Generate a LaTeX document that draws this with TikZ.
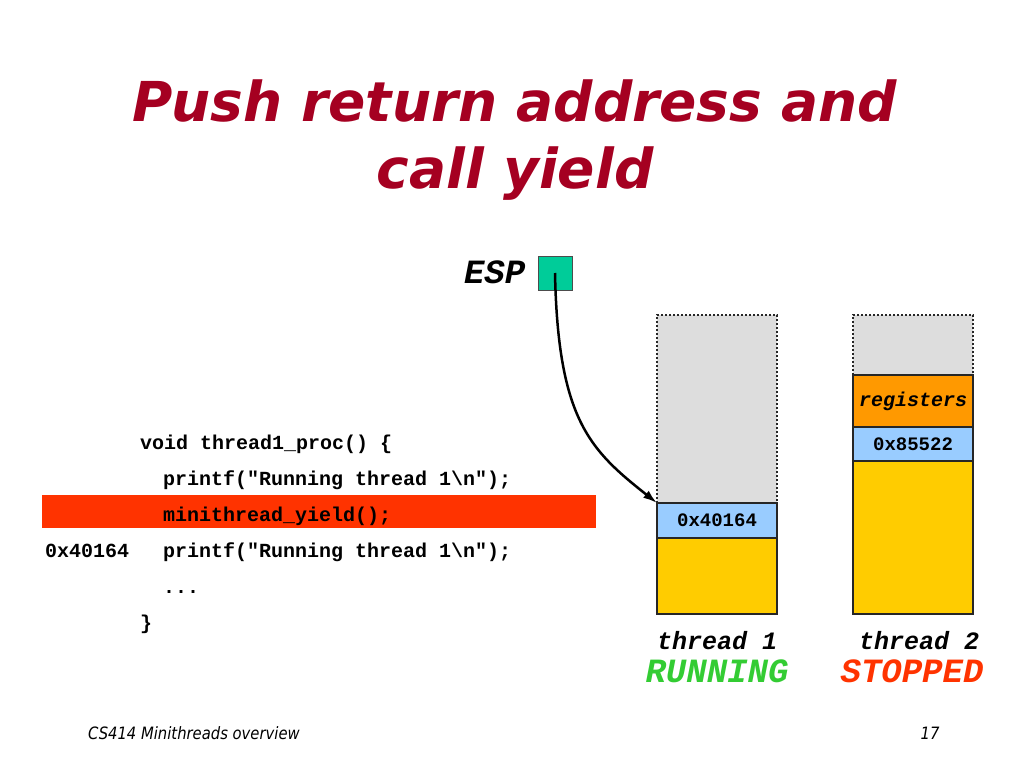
\documentclass[tikz,border=0pt]{standalone}
\usepackage{fontspec}
\setmainfont{DejaVu Sans}
\setmonofont{Liberation Mono}
\newfontfamily\footfont{DejaVu Sans}[FakeStretch=0.87]
\usetikzlibrary{positioning,arrows.meta}

\definecolor{titlered}{HTML}{A50021}
\definecolor{espgreen}{HTML}{00CC99}
\definecolor{freegray}{HTML}{DDDDDD}
\definecolor{retblue}{HTML}{99CCFF}
\definecolor{usedyellow}{HTML}{FFCC00}
\definecolor{regorange}{HTML}{FF9900}
\definecolor{hilite}{HTML}{FF3300}
\definecolor{rungreen}{HTML}{33CC33}

\tikzset{
  slot/.style={draw=black!85, line width=2pt, minimum width=120pt, inner sep=0pt, outer sep=0pt,
    font=\ttfamily\bfseries\fontsize{19}{19}\selectfont},
  freeslot/.style={slot, draw=none, fill=freegray},
  code/.style={anchor=base west, inner sep=0pt, font=\ttfamily\bfseries\fontsize{20}{20}\selectfont},
  titleline/.style={text=titlered, font=\bfseries\itshape\fontsize{55}{55}\selectfont},
  threadlabel/.style={inner sep=0pt, font=\ttfamily\bfseries\itshape\fontsize{25}{25}\selectfont},
  statelabel/.style={inner sep=0pt, font=\ttfamily\bfseries\itshape\fontsize{34}{34}\selectfont},
}

\begin{document}
\begin{tikzpicture}[x=1pt,y=1pt,yscale=-1]
    \useasboundingbox (0,0) rectangle (1024,768);

    % title
    \node[titleline] (title1) at (515,101) {Push return address and};
    \node[titleline] (title2) at (515,174) {call yield};

    % code
    \fill[hilite] (42,495) rectangle (596,528);
    \node[code] (l1) at (140,449) {void thread1\_proc() \{};
    \node[code] (l2) at (163,485) {printf("Running thread 1\textbackslash n");};
    \node[code] (l3) at (163,521) {minithread\_yield();};
    \node[code] (l4) at (163,557) {printf("Running thread 1\textbackslash n");};
    \node[code] (addr) at (45,557) {0x40164};
    \node[code] (l5) at (163,593) {...};
    \node[code] (l6) at (140,629) {\}};

    % thread 1 stack
    \node[freeslot, minimum height=188pt, anchor=north] (free1) at (717,315) {};
    \draw[black!85, line width=2pt, dotted] (free1.south west) -- (free1.north west) -- (free1.north east) -- (free1.south east);
    \node[slot, fill=retblue, minimum height=35pt, below=0pt of free1] (ret1) {0x40164};
    \node[slot, fill=usedyellow, minimum height=76pt, below=0pt of ret1] (used1) {};

    % thread 2 stack
    \node[freeslot, minimum height=60pt, anchor=north] (free2) at (913,315) {};
    \draw[black!85, line width=2pt, dotted] (free2.south west) -- (free2.north west) -- (free2.north east) -- (free2.south east);
    \node[slot, fill=regorange, minimum height=52pt, below=0pt of free2, font=\ttfamily\bfseries\itshape\fontsize{20}{20}\selectfont] (regs) {registers};
    \node[slot, fill=retblue, minimum height=34pt, below=0pt of regs] (ret2) {0x85522};
    \node[slot, fill=usedyellow, minimum height=153pt, below=0pt of ret2] (used2) {};

    % labels
    \node[threadlabel, below=17pt of used1] (name1) {thread 1};
    \node[statelabel, text=rungreen, below=10pt of name1] (state1) {RUNNING};
    \node[threadlabel, below=17pt of used2, xshift=6pt] (name2) {thread 2};
    \node[statelabel, text=hilite, below=10pt of name2, xshift=-7pt] (state2) {STOPPED};

    % stack pointer
    \node[draw=black!70, line width=1pt, fill=espgreen, minimum size=34pt, inner sep=0pt] (esp) at (555,273) {};
    \node[statelabel, left=12pt of esp, yshift=1pt] (esplabel) {ESP};
    \draw[line width=2.5pt, -{Latex[length=14pt,width=9pt]}] (esp.center) .. controls (558,420) and (590,450) .. (free1.south west);

    % footer
    \node[anchor=west, inner sep=0pt, font=\footfont\itshape\fontsize{17}{17}\selectfont] (foot) at (88,733) {CS414 Minithreads overview};
    \node[inner sep=0pt, font=\footfont\itshape\fontsize{17}{17}\selectfont] (page) at (930,733) {17};
\end{tikzpicture}
\end{document}
